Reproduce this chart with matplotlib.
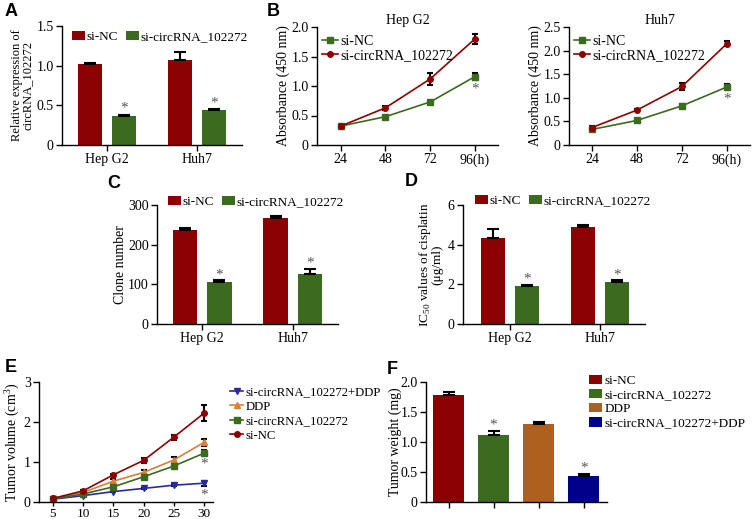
import numpy as np
import matplotlib
matplotlib.use('Agg')
import matplotlib.pyplot as plt
from matplotlib.lines import Line2D

plt.rcParams['font.family'] = ['Liberation Serif', 'DejaVu Serif']
plt.rcParams['mathtext.fontset'] = 'custom'
plt.rcParams['mathtext.rm'] = 'Liberation Serif'
plt.rcParams['font.size'] = 10
plt.rcParams['axes.linewidth'] = 1.0

RED = '#8b0000'
GREEN = '#3b6b1f'
ORANGE_BAR = '#b0601e'
ORANGE_LINE = '#d8813a'
BLUE_BAR = '#00008b'
BLUE_LINE = '#2a2aa0'
STAR = '#555555'
W, H = 752, 519

# Data
cells = ['Hep G2', 'Huh7']
groups2 = ['si-NC', 'si-circRNA_102272']

expr_nc = [1.02, 1.07]
expr_nc_err = [0.01, 0.10]
expr_si = [0.37, 0.44]
expr_si_err = [0.01, 0.01]

hours = [24, 48, 72, 96]
hours_lbl = ['24', '48', '72', '96(h)']
hep_nc = [0.32, 0.48, 0.73, 1.16]
hep_nc_err = [0.02, 0.02, 0.02, 0.06]
hep_si = [0.32, 0.63, 1.12, 1.80]
hep_si_err = [0.02, 0.03, 0.10, 0.08]
huh_nc = [0.33, 0.52, 0.83, 1.23]
huh_nc_err = [0.02, 0.02, 0.03, 0.07]
huh_si = [0.37, 0.74, 1.24, 2.15]
huh_si_err = [0.03, 0.02, 0.08, 0.05]

clone_nc = [236, 266]
clone_nc_err = [5, 7]
clone_si = [105, 127]
clone_si_err = [5, 12]

ic50_nc = [4.35, 4.90]
ic50_nc_err = [0.45, 0.10]
ic50_si = [1.93, 2.12]
ic50_si_err = [0.05, 0.08]

days = [5, 10, 15, 20, 25, 30]
vol_combo = [0.07, 0.16, 0.26, 0.34, 0.42, 0.47]
vol_combo_err = [0.01, 0.02, 0.02, 0.02, 0.02, 0.06]
vol_ddp = [0.08, 0.24, 0.52, 0.74, 1.05, 1.49]
vol_ddp_err = [0.01, 0.02, 0.05, 0.05, 0.07, 0.09]
vol_si = [0.08, 0.20, 0.38, 0.63, 0.90, 1.22]
vol_si_err = [0.01, 0.02, 0.03, 0.06, 0.05, 0.08]
vol_nc = [0.09, 0.28, 0.68, 1.04, 1.62, 2.22]
vol_nc_err = [0.02, 0.03, 0.03, 0.07, 0.06, 0.20]

weight_groups = ['si-NC', 'si-circRNA_102272', 'DDP', 'si-circRNA_102272+DDP']
weights = [1.79, 1.12, 1.30, 0.44]
weights_err = [0.04, 0.06, 0.04, 0.02]


def add_ax(fig, x0, x1, ytop, ybot):
    ax = fig.add_axes([x0 / W, 1 - ybot / H, (x1 - x0) / W, (ybot - ytop) / H])
    ax.spines['top'].set_visible(False)
    ax.spines['right'].set_visible(False)
    ax.tick_params(direction='out', length=4, width=1, labelsize=10, pad=2)
    return ax


def letter(fig, x, y, s):
    fig.text(x / W, 1 - y / H, s, fontsize=13, fontweight='bold',
             family='Liberation Sans', va='center', ha='left')


def fmt_ticks(ax, ticks, fmt):
    ax.set_yticks(ticks)
    ax.set_yticklabels(['0' if t == 0 else fmt.format(t) for t in ticks])


def paired_bars(ax, nc, nc_err, si, si_err, starpad, leg_xy):
    x = np.arange(len(cells))
    w = 0.27
    ax.bar(x - 0.19, nc, w, color=RED, label=groups2[0],
           yerr=[np.zeros(len(nc)), nc_err], capsize=4,
           error_kw=dict(elinewidth=1.5, capthick=1.5, ecolor='black'))
    ax.bar(x + 0.19, si, w, color=GREEN, label=groups2[1],
           yerr=[np.zeros(len(si)), si_err], capsize=4,
           error_kw=dict(elinewidth=1.5, capthick=1.5, ecolor='black'))
    for xi, v, e in zip(x, si, si_err):
        ax.text(xi + 0.19, v + e + starpad, '*', ha='center', va='bottom',
                color=STAR, fontsize=11)
    ax.set_xticks(x)
    ax.set_xticklabels(cells)
    ax.legend(loc='center left', bbox_to_anchor=leg_xy, ncol=2,
              frameon=False, handlelength=1.0, handleheight=0.7,
              handletextpad=0.1, columnspacing=0.6, borderaxespad=0,
              borderpad=0, fontsize=9.5)


def growth(ax, xs, series):
    handles = []
    for ys, err, col, mk, lbl in series:
        ax.errorbar(xs, ys, yerr=err, color=col, marker=mk, markersize=4,
                    linewidth=1.2, ecolor='black', elinewidth=1.5,
                    capsize=2.5, capthick=1.5, markeredgecolor=col)
        handles.append(Line2D([], [], color=col, marker=mk, markersize=4,
                              linewidth=1.2, label=lbl))
    return handles


fig = plt.figure(figsize=(7.52, 5.19), dpi=100)

# A
ax = add_ax(fig, 62, 242, 26, 145)
paired_bars(ax, expr_nc, expr_nc_err, expr_si, expr_si_err, 0.0,
            (0.056, 0.908))
ax.set_xlim(-0.5, 1.5)
ax.set_ylim(0, 1.5)
fmt_ticks(ax, [0, 0.5, 1.0, 1.5], '{:.1f}')
ax.set_ylabel('Relative expression of\ncircRNA_102272', labelpad=2,
              linespacing=0.85, fontsize=9)
letter(fig, 5, 12, 'A')

# B
for (x0, x1, t24, t96, ymax, nc, nce, si, sie, title, ticks) in [
        (317, 498, 340.7, 475, 2.0, hep_nc, hep_nc_err, hep_si, hep_si_err,
         'Hep G2', [0, 0.5, 1.0, 1.5, 2.0]),
        (569, 750, 592, 727, 2.5, huh_nc, huh_nc_err, huh_si, huh_si_err,
         'Huh7', [0, 0.5, 1.0, 1.5, 2.0, 2.5])]:
    ax = add_ax(fig, x0, x1, 27, 145)
    hs = growth(ax, hours, [(nc, nce, GREEN, 's', groups2[0]),
                            (si, sie, RED, 'o', groups2[1])])
    pxh = (t96 - t24) / 72
    ax.set_xlim(24 - (t24 - x0) / pxh, 96 + (x1 - t96) / pxh)
    ax.set_ylim(0, ymax)
    fmt_ticks(ax, ticks, '{:.1f}')
    ax.set_xticks(hours)
    ax.set_xticklabels(hours_lbl)
    ax.set_ylabel('Absorbance (450 nm)', labelpad=1)
    ax.set_title(title, fontsize=10, pad=-6)
    ax.text(96, nc[-1] - nce[-1] - 0.04, '*', ha='center', va='top',
            color=STAR, fontsize=11)
    ax.legend(handles=hs, loc='upper left', bbox_to_anchor=(0.03, 0.93),
              frameon=False, handlelength=1.1, handletextpad=0.2,
              labelspacing=0.05, borderaxespad=0, borderpad=0, fontsize=10)
letter(fig, 267, 12, 'B')

# C
ax = add_ax(fig, 157, 338, 205, 324)
paired_bars(ax, clone_nc, clone_nc_err, clone_si, clone_si_err, -2,
            (0.06, 1.025))
ax.set_xlim(-0.5, 1.5)
ax.set_ylim(0, 300)
ax.set_yticks([0, 100, 200, 300])
ax.set_ylabel('Clone number', labelpad=1)
letter(fig, 107, 183, 'C')

# D
ax = add_ax(fig, 463, 645, 205, 324)
paired_bars(ax, ic50_nc, ic50_nc_err, ic50_si, ic50_si_err, -0.05,
            (0.066, 1.034))
ax.set_xlim(-0.52, 1.5)
ax.set_ylim(0, 6)
ax.set_yticks([0, 2, 4, 6])
ax.set_ylabel('IC$_{50}$ values of cisplatin\n(μg/ml)', labelpad=3,
              linespacing=0.85, fontsize=9.5)
letter(fig, 405, 182, 'D')

# E
ax = add_ax(fig, 39, 213, 382, 502)
hs = growth(ax, days,
            [(vol_combo, vol_combo_err, BLUE_LINE, 'v', weight_groups[3]),
             (vol_ddp, vol_ddp_err, ORANGE_LINE, '^', weight_groups[2]),
             (vol_si, vol_si_err, GREEN, 's', weight_groups[1]),
             (vol_nc, vol_nc_err, RED, 'o', weight_groups[0])])
pxd = (204 - 53) / 25
ax.set_xlim(5 - (53 - 39) / pxd, 30 + (213 - 204) / pxd)
ax.set_ylim(0, 3)
ax.set_yticks([0, 1, 2, 3])
ax.set_xticks(days)
ax.tick_params(axis='x', length=3, pad=1, labelsize=9.5)
ax.set_ylabel('Tumor volume (cm$^3$)', labelpad=2)
ax.text(30, vol_si[-1] - vol_si_err[-1] - 0.04, '*', ha='center', va='top',
        color=STAR, fontsize=11)
ax.text(30, vol_combo[-1] - vol_combo_err[-1] - 0.08, '*', ha='center',
        va='top', color=STAR, fontsize=11)
ax.legend(handles=hs, loc='upper left', bbox_to_anchor=(1.10, 0.965),
          frameon=False, handlelength=1.0, handletextpad=0.2,
          labelspacing=0.2, borderaxespad=0, borderpad=0, fontsize=9.2)
letter(fig, 5, 368, 'E')

# F
ax = add_ax(fig, 426, 607, 382, 502)
xf = np.arange(len(weights))
bars = ax.bar(xf, weights, 0.69, color=[RED, GREEN, ORANGE_BAR, BLUE_BAR],
              yerr=[np.zeros(len(weights)), weights_err], capsize=4,
              error_kw=dict(elinewidth=1.5, capthick=1.5, ecolor='black'))
for b, lbl in zip(bars, weight_groups):
    b.set_label(lbl)
for i in [1, 3]:
    ax.text(xf[i], weights[i] + weights_err[i], '*', ha='center', va='bottom',
            color=STAR, fontsize=11)
ax.set_xlim(-0.5, 3.52)
ax.set_ylim(0, 2.0)
fmt_ticks(ax, [0, 0.5, 1.0, 1.5, 2.0], '{:.1f}')
ax.set_xticks(xf)
ax.set_xticklabels([])
ax.set_ylabel('Tumor weight (mg)', labelpad=-1)
ax.legend(loc='upper left', bbox_to_anchor=((589 - 426) / 181, 1.06),
          frameon=False, handlelength=1.0, handleheight=0.7,
          handletextpad=0.15, labelspacing=0.15, borderaxespad=0,
          borderpad=0, fontsize=9.5)
letter(fig, 387, 370, 'F')

fig.savefig('out.png', dpi=100)
